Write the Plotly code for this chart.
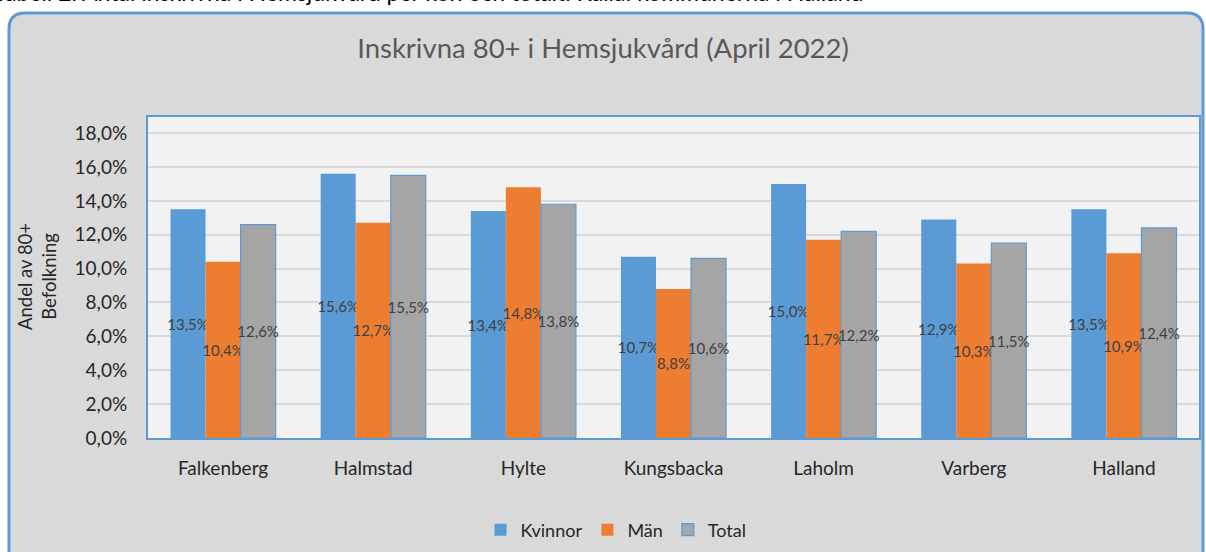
import plotly.graph_objects as go

categories = ["Falkenberg", "Halmstad", "Hylte", "Kungsbacka", "Laholm", "Varberg", "Halland"]
kvinnor = [0.135, 0.156, 0.134, 0.107, 0.150, 0.129, 0.135]
man = [0.104, 0.127, 0.148, 0.088, 0.117, 0.103, 0.109]
total = [0.126, 0.155, 0.138, 0.106, 0.122, 0.115, 0.124]

W, H = 1206, 552
L, R, T, B = 148, 1199, 117, 438  # plot area in pixels

def PX(px):
    return (px - L) / (R - L)

def PY(py):
    return (B - py) / (B - T)

FONT = "Lato"
BLUE = "#5b9bd5"

fig = go.Figure()
series = [("Kvinnor", kvinnor, "#5b9bd5", "#5b9bd5", 0),
          ("Män", man, "#ed7d31", "#ed7d31", 0),
          ("Total", total, "#a5a5a5", "#5b9bd5", 1.2)]
for name, vals, col, lcol, lw in series:
    fig.add_trace(go.Bar(
        name=name, x=categories, y=vals,
        marker=dict(color=col, line=dict(color=lcol, width=lw)),
        texttemplate="%{y:.1%}", textposition="inside", insidetextanchor="middle",
        textangle=0, constraintext="none",
        textfont=dict(family=FONT, size=15, color="#404040"),
        cliponaxis=False,
    ))

# outer rounded frame
x0, x1, y0, y1, r = 9, 1203, 13, 620, 16
path = (f"M {PX(x0)},{PY(y1)} L {PX(x0)},{PY(y0 + r)} "
        f"Q {PX(x0)},{PY(y0)} {PX(x0 + r)},{PY(y0)} "
        f"L {PX(x1 - r)},{PY(y0)} Q {PX(x1)},{PY(y0)} {PX(x1)},{PY(y0 + r)} "
        f"L {PX(x1)},{PY(y1)} Z")
shapes = [
    dict(type="path", xref="paper", yref="paper", path=path,
         fillcolor="#d9d9d9", line=dict(color=BLUE, width=3), layer="below"),
    dict(type="rect", xref="paper", yref="paper", x0=0, x1=1, y0=0, y1=1,
         fillcolor="#f2f2f2", line=dict(width=0), layer="below"),
]

fig.update_layout(
    width=W, height=H,
    margin=dict(l=L, r=W - R, t=T, b=H - B, autoexpand=False),
    paper_bgcolor="white", plot_bgcolor="rgba(0,0,0,0)",
    separators=",.",
    barmode="group", bargap=0.3, bargroupgap=0,
    font=dict(family=FONT, color="#262626"),
    title=dict(text="Inskrivna 80+ i Hemsjukvård (April 2022)",
               x=603 / W, xanchor="center", y=1 - 48 / H, yanchor="middle",
               font=dict(family=FONT, size=27.5, color="#595959")),
    showlegend=True,
    legend=dict(orientation="h", x=PX(616), xanchor="center", y=PY(530), yanchor="middle",
                font=dict(family=FONT, size=18, color="#262626"),
                bgcolor="rgba(0,0,0,0)", traceorder="normal", itemwidth=30),
    shapes=shapes,
    xaxis=dict(showline=True, mirror=True, linecolor=BLUE, linewidth=2,
               showgrid=False, ticks="", ticklabelstandoff=12,
               tickfont=dict(family=FONT, size=19, color="#262626")),
    yaxis=dict(range=[0, 0.1895], dtick=0.02, tick0=0, tickformat=".1%",
               showline=True, mirror=True, linecolor=BLUE, linewidth=2,
               showgrid=True, gridcolor="#d9d9d9", gridwidth=1.5, zeroline=False,
               ticks="", ticklabelstandoff=15,
               tickfont=dict(family=FONT, size=19, color="#262626")),
    annotations=[
        dict(text="Tabell 2. Antal inskrivna i Hemsjukvård per kön och totalt. Källa: kommunerna i Halland",
             xref="paper", yref="paper", x=PX(-8), xanchor="left",
             y=PY(8.5), yanchor="bottom", showarrow=False,
             font=dict(family=FONT, size=23, color="#000000")),
        dict(text="Andel av 80+<br>Befolkning", textangle=-90,
             xref="paper", yref="paper", x=PX(37), xanchor="center",
             y=PY(277), yanchor="middle", showarrow=False,
             font=dict(family=FONT, size=18.5, color="#262626")),
    ],
)

fig.write_html("out.html", config={"displayModeBar": False},
               post_script="document.body.style.margin='0';document.body.style.overflow='hidden';")
